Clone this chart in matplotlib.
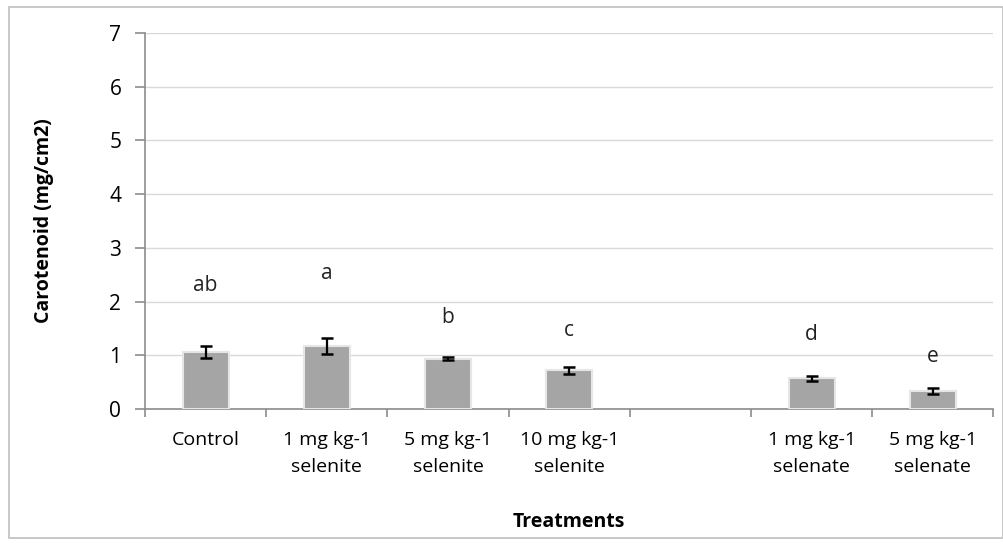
import matplotlib
matplotlib.use("Agg")
import matplotlib.pyplot as plt
from matplotlib.patches import Rectangle

categories = ["Control", "1 mg kg-1\nselenite", "5 mg kg-1\nselenite", "10 mg kg-1\nselenite",
              "", "1 mg kg-1\nselenate", "5 mg kg-1\nselenate"]
values = [1.06, 1.17, 0.94, 0.72, None, 0.57, 0.33]
errors = [0.11, 0.15, 0.035, 0.07, None, 0.04, 0.055]
letters = ["ab", "a", "b", "c", None, "d", "e"]
letter_y = [2.3, 2.52, 1.7, 1.47, None, 1.38, 0.98]
yticks = [0, 1, 2, 3, 4, 5, 6, 7]

plt.rcParams['font.family'] = ['Open Sans', 'DejaVu Sans']

fig = plt.figure(figsize=(10.04, 5.45), dpi=100)
fig.patches.append(Rectangle((0.009, 0.013), 0.99, 0.975, transform=fig.transFigure,
                             fill=False, edgecolor='#BFBFBF', linewidth=1.2))
ax = fig.add_axes([0.1444, 0.2495, 0.845, 0.69])

xs = [i for i, v in enumerate(values) if v is not None]
vs = [v for v in values if v is not None]
es = [e for e in errors if e is not None]

ax.bar(xs, vs, width=0.38, color='#A5A5A5', edgecolor='#E6E6E6', linewidth=1.5, zorder=3)
ax.errorbar(xs, vs, yerr=es, fmt='none', ecolor='black', elinewidth=1.6, capsize=4.5,
            capthick=1.8, zorder=4)
for i, (lab, ly) in enumerate(zip(letters, letter_y)):
    if lab is not None:
        ax.text(i, ly, lab, ha='center', va='center', fontsize=15, color='#222222')

ax.set_xlim(-0.5, len(categories) - 0.5)
ax.set_ylim(0, 7)
ax.set_yticks(yticks)
ax.set_yticklabels([str(t) for t in yticks], fontsize=15)
ax.set_xticks(range(len(categories)))
ax.set_xticklabels(categories, fontsize=14, linespacing=1.6)
ax.set_xticks([i - 0.5 for i in range(len(categories) + 1)], minor=True)
ax.tick_params(axis='x', which='major', length=0, pad=16)
ax.tick_params(axis='x', which='minor', length=6, direction='out', color='#8C8C8C', width=1.2)
ax.tick_params(axis='y', length=7, direction='out', color='#8C8C8C', width=1.2, pad=10)

ax.grid(axis='y', color='#D9D9D9', linewidth=1, zorder=0)
for s in ['top', 'right']:
    ax.spines[s].set_visible(False)
for s in ['left', 'bottom']:
    ax.spines[s].set_color('#8C8C8C')
    ax.spines[s].set_linewidth(1.2)

ax.set_ylabel("Carotenoid (mg/cm2)", fontsize=14, fontweight='bold', labelpad=40)
ax.set_xlabel("Treatments", fontsize=14, fontweight='bold', labelpad=26)

fig.savefig("out.png", dpi=100)
